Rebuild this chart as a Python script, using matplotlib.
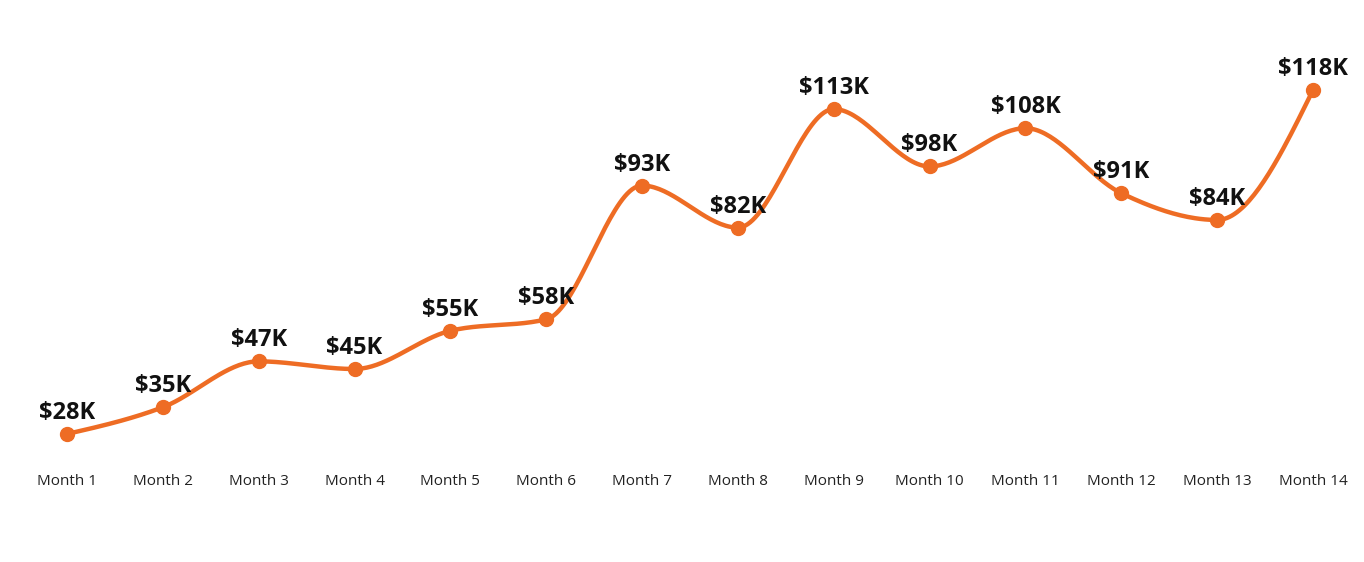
import numpy as np
import matplotlib
matplotlib.use("Agg")
import matplotlib.pyplot as plt

# data
months = ["Month %d" % i for i in range(1, 15)]
revenue = [28, 35, 47, 45, 55, 58, 93, 82, 113, 98, 108, 91, 84, 118]
labels = ["$%dK" % v for v in revenue]

plt.rcParams['font.family'] = ['Open Sans', 'DejaVu Sans']

orange = "#EE6C24"


def monotone_x(xs, ys, n=40):
    # same idea as d3.curveMonotoneX (Steffen slopes, cubic bezier pieces)
    xs = np.asarray(xs, float)
    ys = np.asarray(ys, float)
    h = np.diff(xs)
    s = np.diff(ys) / h
    t = np.zeros(len(xs))
    for i in range(1, len(xs) - 1):
        p = (s[i - 1] * h[i] + s[i] * h[i - 1]) / (h[i - 1] + h[i])
        t[i] = (np.sign(s[i - 1]) + np.sign(s[i])) * min(abs(s[i - 1]), abs(s[i]), 0.5 * abs(p))
    t[0] = (3 * s[0] - t[1]) / 2
    t[-1] = (3 * s[-1] - t[-2]) / 2
    px, py = [], []
    u = np.linspace(0, 1, n)
    for i in range(len(xs) - 1):
        dx = h[i] / 3
        x0, x1, x2, x3 = xs[i], xs[i] + dx, xs[i + 1] - dx, xs[i + 1]
        y0, y1, y2, y3 = ys[i], ys[i] + dx * t[i], ys[i + 1] - dx * t[i + 1], ys[i + 1]
        b0 = (1 - u) ** 3
        b1 = 3 * u * (1 - u) ** 2
        b2 = 3 * u ** 2 * (1 - u)
        b3 = u ** 3
        px.extend(b0 * x0 + b1 * x1 + b2 * x2 + b3 * x3)
        py.extend(b0 * y0 + b1 * y1 + b2 * y2 + b3 * y3)
    return np.array(px), np.array(py)


x = np.arange(len(months))
cx, cy = monotone_x(x, revenue)

fig = plt.figure(figsize=(13.64, 5.62), dpi=100)
ax = fig.add_axes([0, 0.1904, 1, 0.8096])

ax.plot(cx, cy, color=orange, lw=3.2, solid_capstyle='round', zorder=2)
ax.plot(x, revenue, 'o', color=orange, ms=10, zorder=3)

for xi, v, lab in zip(x, revenue, labels):
    ax.annotate(lab, (xi, v), xytext=(0, 6.5), textcoords='offset points',
                ha='center', va='bottom', fontsize=17, fontweight='bold',
                color='#111111')

ax.set_xlim(-0.699, 13.532)
ax.set_ylim(22.5, 141.55)
ax.set_xticks(x)
ax.set_xticklabels(months, fontsize=11, color='#222222')
ax.tick_params(axis='x', length=0, pad=14)
ax.set_yticks([])
for sp in ax.spines.values():
    sp.set_visible(False)

fig.savefig("out.png", dpi=100)
